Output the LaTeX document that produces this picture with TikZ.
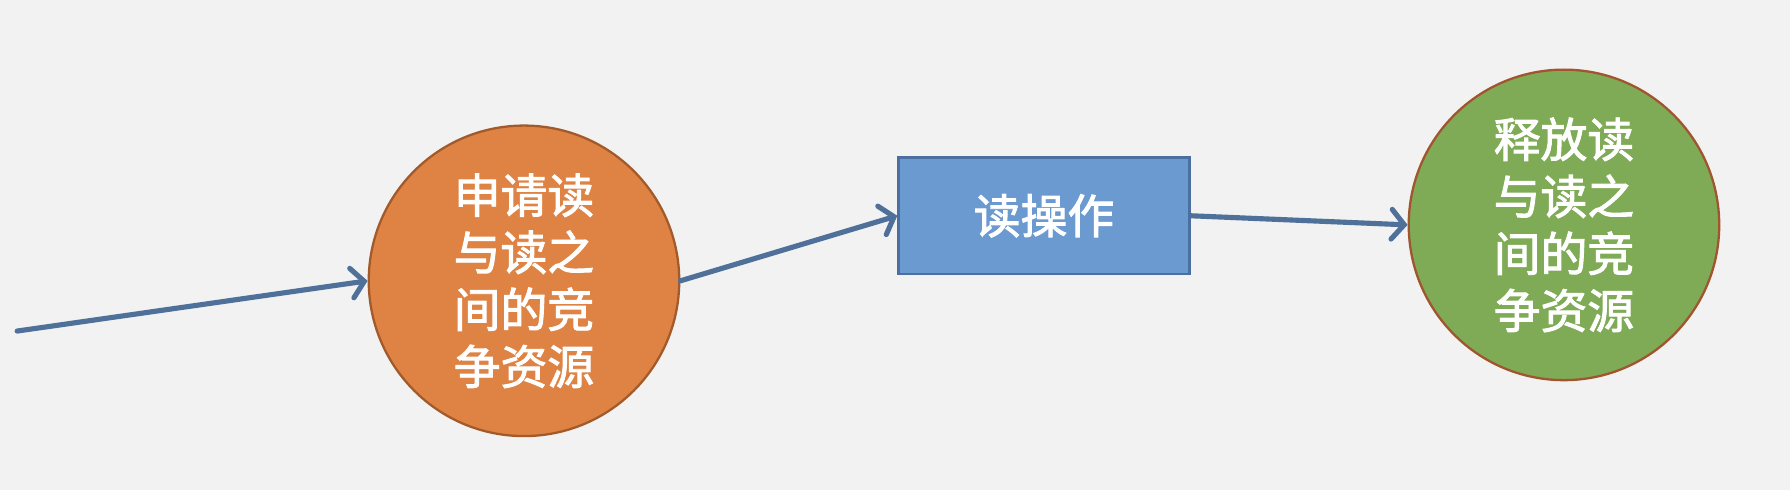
\documentclass[tikz,border=0pt]{standalone}
\usepackage{fontspec}
\newfontfamily\cjk[FakeBold=2]{Noto Sans CJK SC}
\usetikzlibrary{arrows.meta}
\definecolor{bgc}{HTML}{F2F2F2}
\definecolor{orangefill}{HTML}{DE8344}
\definecolor{orangedraw}{HTML}{A35A2B}
\definecolor{bluefill}{HTML}{6A9AD0}
\definecolor{bluedraw}{HTML}{4A6FA0}
\definecolor{greenfill}{HTML}{7FAB56}
\definecolor{greendraw}{HTML}{A0552F}
\definecolor{arrowc}{HTML}{4F7099}
\tikzset{
  txt/.style={text=white, font=\cjk\fontsize{41}{50}\selectfont, align=center, inner sep=0pt},
  statecircle/.style={circle, txt, minimum size=272pt, line width=2pt},
  opbox/.style={rectangle, txt, minimum width=255pt, minimum height=102pt, line width=2pt},
  flow/.style={arrowc, line width=4.5pt, line cap=round, -{Straight Barb[length=11pt,width=26pt,line cap=round]}}
}
\begin{document}
\begin{tikzpicture}[x=1pt,y=-1pt]
\fill[bgc] (0,0) rectangle (1568,429);
\useasboundingbox (0,0) rectangle (1568,429);
\node[statecircle, fill=orangefill, draw=orangedraw] (c1) at (459,246) {申请读\\与读之\\间的竞\\争资源};
\node[opbox, fill=bluefill, draw=bluedraw] (r) at (914.5,189) {读操作};
\node[statecircle, fill=greenfill, draw=greendraw] (c2) at (1370,197) {释放读\\与读之\\间的竞\\争资源};
\coordinate (start) at (15,290);
\draw[flow] (start) -- (c1.west);
\draw[flow] (c1.east) -- (r.west);
\draw[flow] (r.east) -- (c2.west);
\end{tikzpicture}
\end{document}
